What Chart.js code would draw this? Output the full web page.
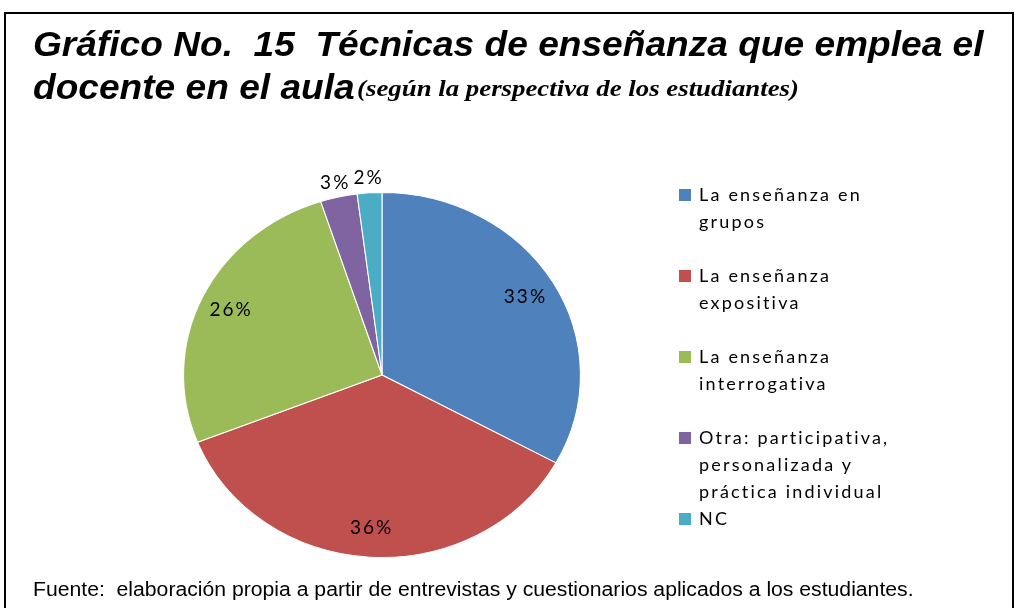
<!DOCTYPE html>
<html>
<head>
<meta charset="utf-8">
<script src="https://cdn.jsdelivr.net/npm/chart.js@4"></script>
<style>
    body { margin: 0; width: 1020px; height: 608px; overflow: hidden; background: #fff; position: relative; }
    #marco { position: absolute; left: 4px; top: 12px; width: 1010px; height: 620px; border: 2px solid #000; box-sizing: border-box; }
    #grafico { position: absolute; left: 0; top: 0; }
    .titulo { position: absolute; left: 33px; font-family: "Liberation Sans", Arial, sans-serif; font-weight: bold; font-style: italic; font-size: 35px; color: #000; white-space: nowrap; transform-origin: left top; transform: scaleX(1.06); }
    .sub { position: absolute; left: 357px; top: 75px; font-family: "Liberation Serif", "Times New Roman", serif; font-size: 24px; font-weight: bold; font-style: italic; white-space: nowrap; transform-origin: left top; transform: scaleX(1.118); }
    #fuente { position: absolute; left: 33px; top: 578px; font-family: "Liberation Sans", Arial, sans-serif; font-size: 19.5px; color: #000; white-space: nowrap; transform-origin: left top; transform: scaleX(1.086); }
    #leyenda { position: absolute; left: 679px; top: 181px; font-family: Lato, sans-serif; font-size: 18px; letter-spacing: 2.2px; color: #000; white-space: nowrap; }
    .item { position: relative; padding-left: 20px; line-height: 27px; margin-bottom: 27px; }
    .item .cuadro { position: absolute; left: 0; top: 8px; width: 12px; height: 12px; }
</style>
</head>
<body>
<div id="marco"></div>
<canvas id="grafico" width="1020" height="608"></canvas>
<div class="titulo" style="top:24px;">Gráfico No.&nbsp; 15&nbsp; Técnicas de enseñanza que emplea el</div>
<div class="titulo" style="top:67px;">docente en el aula</div>
<div class="sub">(según la perspectiva de los estudiantes)</div>
<div id="leyenda"></div>
<div id="fuente">Fuente:&nbsp; elaboración propia a partir de entrevistas y cuestionarios aplicados a los estudiantes.</div>
<script>
// Datos del gráfico
const categorias = [
    ["La enseñanza en", "grupos"],
    ["La enseñanza", "expositiva"],
    ["La enseñanza", "interrogativa"],
    ["Otra:  participativa,", "personalizada y", "práctica individual"],
    ["NC"]
];
const porcentajes = [33, 36, 26, 3, 2];
const colores = ["#4F81BD", "#C0504D", "#9BBB59", "#8064A2", "#4BACC6"];

// el pastel original es un poco más ancho que alto
const escalaX = 199 / 183;

const elipse = {
    id: "elipse",
    beforeDatasetsDraw(chart) {
        const arc = chart.getDatasetMeta(0).data[0];
        const ctx = chart.ctx;
        ctx.save();
        ctx.translate(arc.x, arc.y);
        ctx.scale(escalaX, 1);
        ctx.translate(-arc.x, -arc.y);
    },
    afterDatasetsDraw(chart) {
        chart.ctx.restore();
    }
};

// etiquetas de porcentaje
const etiquetas = {
    id: "etiquetas",
    afterDraw(chart) {
        const ctx = chart.ctx;
        ctx.save();
        ctx.font = "19px Lato";
        ctx.letterSpacing = "2px";
        ctx.fillStyle = "#000";
        ctx.textAlign = "center";
        ctx.textBaseline = "middle";
        chart.getDatasetMeta(0).data.forEach((arc, i) => {
            const v = porcentajes[i];
            const medio = (arc.startAngle + arc.endAngle) / 2;
            const f = v < 5 ? 1.08 : 0.84;
            const x = arc.x + Math.cos(medio) * arc.outerRadius * f * escalaX;
            const y = arc.y + Math.sin(medio) * arc.outerRadius * f;
            ctx.fillText(v + "%", x, y);
        });
        ctx.restore();
    }
};

const ctx = document.getElementById("grafico").getContext("2d");
const grafico = new Chart(ctx, {
    type: "pie",
    data: {
        labels: categorias.map((l) => l.join(" ")),
        datasets: [
            {
                data: porcentajes,
                backgroundColor: colores,
                borderColor: "#ffffff",
                borderWidth: 1,
            },
        ],
    },
    options: {
        responsive: false,
        animation: false,
        layout: { padding: { left: 199, right: 455, top: 192, bottom: 50 } },
        plugins: {
            legend: { display: false },
            tooltip: { enabled: false },
        },
    },
    plugins: [elipse, etiquetas],
});

// leyenda a la derecha
const leyenda = document.getElementById("leyenda");
categorias.forEach((lineas, i) => {
    const item = document.createElement("div");
    item.className = "item";
    if (i === 3) item.style.marginBottom = "0px";
    item.innerHTML = '<span class="cuadro" style="background:' + colores[i] + '"></span>' + lineas.join("<br>");
    leyenda.appendChild(item);
});
</script>
</body>
</html>
